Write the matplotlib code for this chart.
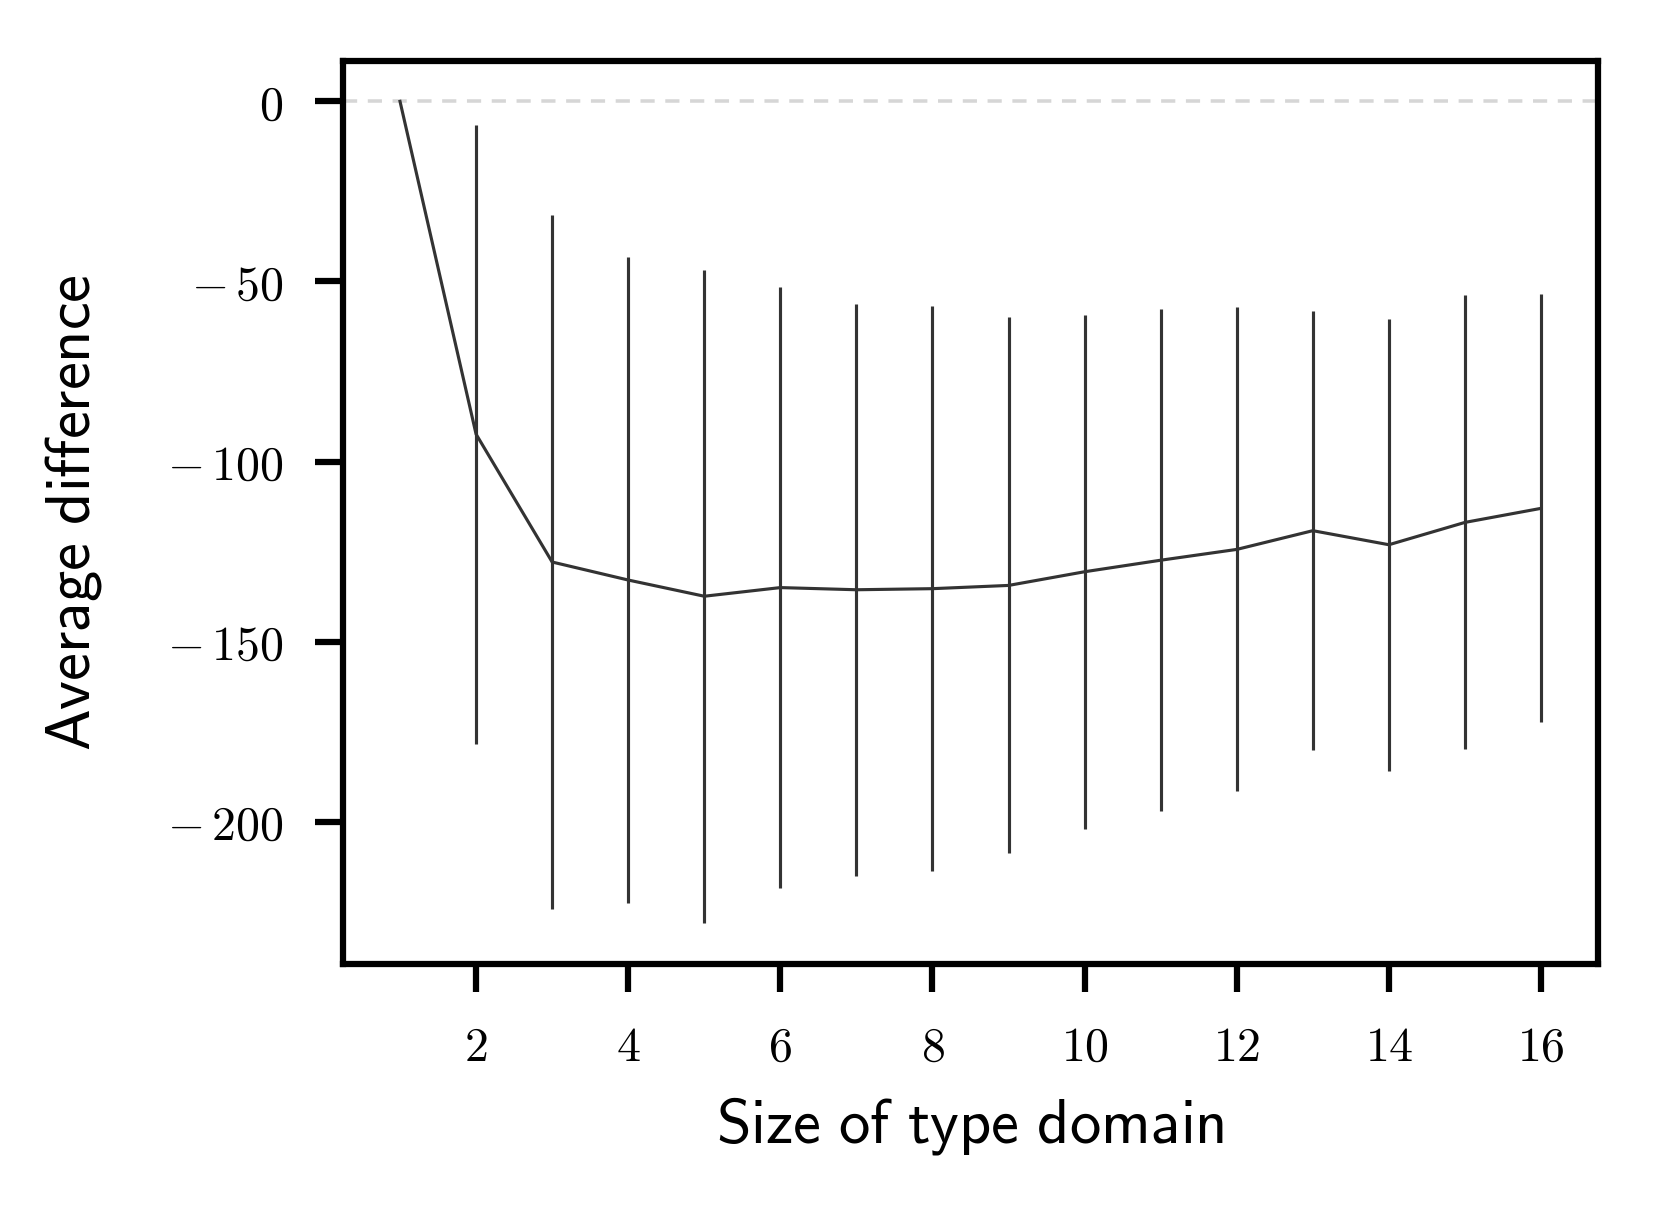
"""Average difference against size of type domain, with sd error bars."""

import matplotlib

matplotlib.use("Agg")
import matplotlib.pyplot as plt
from matplotlib.ticker import FuncFormatter

plt.rcParams["mathtext.fontset"] = "cm"

domain_size = [1, 2, 3, 4, 5, 6, 7, 8, 9, 10, 11, 12, 13, 14, 15, 16]
mean_diff = [0.0, -92.4, -127.9, -132.9, -137.4, -135.0, -135.6, -135.3,
             -134.4, -130.6, -127.4, -124.4, -119.2, -123.1, -116.9, -113.0]
sd_diff = [0.0, 85.9, 96.3, 89.8, 90.6, 83.4, 79.4, 78.5,
           74.4, 71.4, 69.7, 67.2, 61.0, 62.8, 63.0, 59.4]


def tex_tick(value, _pos):
    if value < 0:
        return rf"$-\,{abs(value):g}$"
    return f"${value:g}$"


fig = plt.figure(figsize=(1660 / 300, 1213 / 300), dpi=300)
ax = fig.add_axes([0.2066, 0.2053, 0.7561, 0.7444])

ax.axhline(0, color="#d6d6d6", linewidth=0.85, linestyle="--", dashes=(4, 3), zorder=0)
ax.errorbar(domain_size, mean_diff, yerr=sd_diff, color="#333333",
            linewidth=0.75, elinewidth=0.75, capsize=0)

ax.set_xlim(0.25, 16.75)
ax.set_ylim(-239.5, 11.2)
ax.set_xticks(range(2, 17, 2))
ax.set_yticks([0, -50, -100, -150, -200])
ax.xaxis.set_major_formatter(FuncFormatter(tex_tick))
ax.yaxis.set_major_formatter(FuncFormatter(tex_tick))

for spine in ax.spines.values():
    spine.set_linewidth(1.5)
ax.tick_params(axis="both", length=6.8, width=1.5, pad=7.5, labelsize=11.5)

ax.set_xlabel(r"$\mathsf{Size\ of\ type\ domain}$", fontsize=15)
ax.set_ylabel(r"$\mathsf{Average\ difference}$", fontsize=15)
ax.xaxis.set_label_coords(0.5, -0.145)
ax.yaxis.set_label_coords(-0.19, 0.5)

fig.savefig("out.png", dpi=300)
